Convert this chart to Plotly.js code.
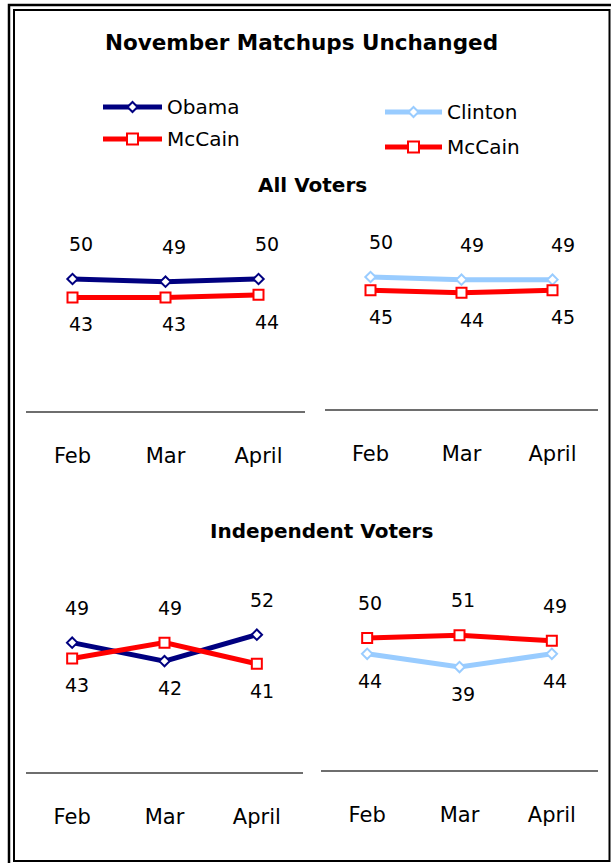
<!DOCTYPE html>
<html><head><meta charset="utf-8">
<script src="https://cdn.plot.ly/plotly-3.0.1.min.js"></script>
<style>html,body{margin:0;padding:0;background:#fff;} #chart{width:611px;height:863px;}</style>
</head><body><div id="chart"></div>
<script>
// ---- data ----
const months = ['Feb', 'Mar', 'April'];
const allObama = [50, 49, 50];
const allMcCainVsObama = [43, 43, 44];
const allClinton = [50, 49, 49];
const allMcCainVsClinton = [45, 44, 45];
const indObama = [49, 42, 52];
const indMcCainVsObama = [43, 49, 41];
const indClinton = [44, 39, 44];
const indMcCainVsClinton = [50, 51, 49];
const titleText = 'November Matchups Unchanged';
const groupTitles = ['All Voters', 'Independent Voters'];
const legendNames = ['Obama', 'McCain', 'Clinton', 'McCain'];

// ---- styles ----
const W = 611, H = 863;
const NAVY = '#000080', LIGHT = '#99CCFF', RED = '#FF0000';
const FONT = 'DejaVu Sans, Verdana, sans-serif';
const px = x => x / W;
const py = y => 1 - y / H;

const panels = [
  {ax: '', xd: [26, 305], yd: [147, 411], dem: allObama, demName: 'Obama', demColor: NAVY, rep: allMcCainVsObama, xs: 8},
  {ax: '2', xd: [325, 598], yd: [145, 409], dem: allClinton, demName: 'Clinton', demColor: LIGHT, rep: allMcCainVsClinton, xs: 10},
  {ax: '3', xd: [26, 303], yd: [508, 772], dem: indObama, demName: 'Obama', demColor: NAVY, rep: indMcCainVsObama, xs: 5},
  {ax: '4', xd: [321, 598], yd: [506, 770], dem: indClinton, demName: 'Clinton', demColor: LIGHT, rep: indMcCainVsClinton, xs: 3}
];

const traces = [];
const annotations = [];
const layout = {
  width: W, height: H,
  margin: {l: 0, r: 0, t: 0, b: 0},
  paper_bgcolor: '#fff', plot_bgcolor: 'rgba(0,0,0,0)',
  showlegend: false,
  font: {family: FONT, color: '#000'},
  annotations: annotations,
  shapes: []
};

panels.forEach(p => {
  const xa = 'x' + p.ax, ya = 'y' + p.ax;
  traces.push({
    type: 'scatter', mode: 'lines+markers', x: months, y: p.dem, name: p.demName,
    xaxis: xa, yaxis: ya, cliponaxis: false,
    line: {color: p.demColor, width: 5},
    marker: {symbol: 'diamond', size: 8, color: '#fff', line: {color: p.demColor, width: 2}}
  });
  traces.push({
    type: 'scatter', mode: 'lines+markers', x: months, y: p.rep, name: 'McCain',
    xaxis: xa, yaxis: ya, cliponaxis: false,
    line: {color: RED, width: 5},
    marker: {symbol: 'square', size: 10, color: '#fff', line: {color: RED, width: 2}}
  });
  layout['xaxis' + p.ax] = {
    domain: [px(p.xd[0]), px(p.xd[1])], anchor: ya, type: 'category',
    range: [-0.5, 2.5], showgrid: false, zeroline: false,
    showline: true, linecolor: '#6e6e6e', linewidth: 1.5,
    ticks: '', ticklabelstandoff: 25,
    tickfont: {family: FONT, size: 21, color: '#000'}, fixedrange: true
  };
  layout['yaxis' + p.ax] = {
    domain: [py(p.yd[1]), py(p.yd[0])], anchor: xa, range: [0, 100],
    visible: false, fixedrange: true
  };
  months.forEach((m, i) => {
    const demUp = p.dem[i] >= p.rep[i];
    [[p.dem[i], demUp], [p.rep[i], !demUp]].forEach(([v, up]) => {
      annotations.push({
        xref: xa, yref: ya, x: m, y: v, text: String(v), showarrow: false,
        xanchor: 'center', yanchor: 'middle',
        xshift: p.xs, yshift: up ? 35 : -27,
        font: {family: FONT, size: 19, color: '#000'}
      });
    });
  });
});

// titles
const centerText = (x, y, text, size) => annotations.push({xref: 'paper', yref: 'paper', x: px(x), y: py(y),
  xanchor: 'center', yanchor: 'middle', text: text, showarrow: false, font: {family: FONT, size: size, color: '#000'}});
centerText(301, 42, '<b>' + titleText + '</b>', 21.5);
centerText(312, 185, '<b>' + groupTitles[0] + '</b>', 20);
centerText(321, 531, '<b>' + groupTitles[1] + '</b>', 20);

// custom legend
const legendItems = [
  {x0: 103, x1: 162, y: 107, color: NAVY, sym: 'diamond', name: legendNames[0]},
  {x0: 103, x1: 162, y: 139, color: RED, sym: 'square', name: legendNames[1]},
  {x0: 385, x1: 442, y: 112, color: LIGHT, sym: 'diamond', name: legendNames[2]},
  {x0: 385, x1: 442, y: 147, color: RED, sym: 'square', name: legendNames[3]}
];
legendItems.forEach(it => {
  layout.shapes.push({type: 'line', xref: 'paper', yref: 'paper', x0: px(it.x0), x1: px(it.x1), y0: py(it.y), y1: py(it.y),
    line: {color: it.color, width: 5}});
  const cx = (it.x0 + it.x1) / 2;
  if (it.sym === 'diamond') {
    const r = 5;
    layout.shapes.push({type: 'path', xref: 'paper', yref: 'paper',
      path: `M ${px(cx - r)},${py(it.y)} L ${px(cx)},${py(it.y - r)} L ${px(cx + r)},${py(it.y)} L ${px(cx)},${py(it.y + r)} Z`,
      fillcolor: '#fff', line: {color: it.color, width: 2}});
  } else {
    const r = 5.5;
    layout.shapes.push({type: 'rect', xref: 'paper', yref: 'paper',
      x0: px(cx - r), x1: px(cx + r), y0: py(it.y + r), y1: py(it.y - r),
      fillcolor: '#fff', line: {color: it.color, width: 2}});
  }
  annotations.push({xref: 'paper', yref: 'paper', x: px(it.x1 + 3), y: py(it.y), xanchor: 'left', yanchor: 'middle',
    text: it.name, showarrow: false, font: {family: FONT, size: 20, color: '#000'}});
});

// double frame
const frame = (x0, y0, x1, y1, w) => layout.shapes.push({type: 'rect', xref: 'paper', yref: 'paper',
  x0: px(x0), x1: px(x1), y0: py(y1), y1: py(y0), line: {color: '#000', width: w}, fillcolor: 'rgba(0,0,0,0)'});
frame(9, 5, 640, 900, 2.5);
frame(14, 10, 609.5, 861, 2);

Plotly.newPlot('chart', traces, layout, {staticPlot: true, displayModeBar: false});
</script>
</body></html>
